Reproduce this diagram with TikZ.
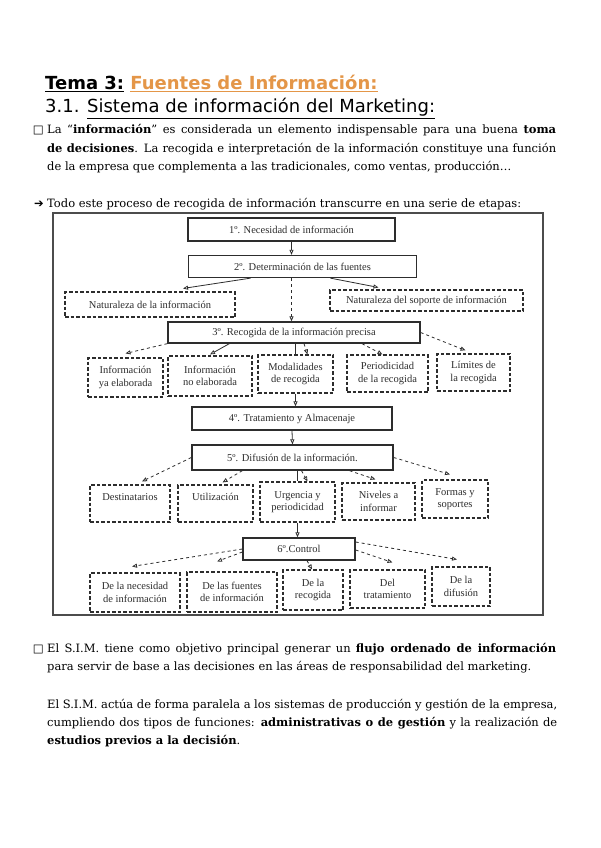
\documentclass[tikz,border=0pt]{standalone}
\usepackage{fontspec}
\setmainfont{DejaVu Serif}
\newfontfamily\titulofont{DejaVu Sans}
\newfontfamily\simbolofont{DejaVu Sans}
\newfontfamily\escaneofont{Liberation Serif}
\usetikzlibrary{arrows.meta}
\definecolor{naranjatema}{RGB}{228,150,72}
\definecolor{tinta}{RGB}{45,45,45}
\tikzset{
  linea/.style={anchor=base west, inner sep=0pt, font=\fontsize{11.5}{14}\selectfont},
  titulo/.style={anchor=base west, inner sep=0pt, font=\titulofont\fontsize{18}{21}\selectfont},
  etapa/.style={draw=tinta, line width=1.3pt, inner sep=1pt, text=tinta,
    font=\escaneofont\fontsize{10.5}{12}\selectfont},
  aspecto/.style={draw=tinta, dash pattern=on 3.5pt off 2pt, line width=1.1pt, inner sep=1pt, align=center, text=tinta,
    font=\escaneofont\fontsize{10.5}{12.5}\selectfont},
  flecha/.style={-{Triangle[open,length=5pt,width=4pt]}, tinta, line width=0.8pt},
}

\begin{document}
\begin{tikzpicture}[x=1pt, y=-1pt]
  \useasboundingbox[fill=white] (0,0) rectangle (600,848);

  % Encabezado
  \node[titulo] (tema) at (45,90) {\bfseries\underline{Tema 3:} \textcolor{naranjatema}{\underline{Fuentes de Información:}}};
  \node[titulo] (apartado) at (45,113) {3.1. \underline{Sistema de información del Marketing:}};

  % Primer párrafo
  \node[linea, anchor=base east] (caja1) at (44,134) {\simbolofont □};
  \node[linea] (p1a) at (47,134) {\makebox[509pt][s]{La “\textbf{información}” es considerada un elemento indispensable para una buena \textbf{toma}}};
  \node[linea] (p1b) at (47,152) {\makebox[509pt][s]{\textbf{de decisiones}. La recogida e interpretación de la información constituye una función}};
  \node[linea] (p1c) at (47,170) {de la empresa que complementa a las tradicionales, como ventas, producción…};

  \node[linea, anchor=base east] (flechita) at (44,207) {\simbolofont ➔};
  \node[linea] (p2) at (47,207) {Todo este proceso de recogida de información transcurre en una serie de etapas:};

  % Marco del esquema
  \draw[gray!60!black, line width=1.4pt] (53,213) rectangle (543,615);

  % Etapas
  \node[etapa, minimum width=207pt, minimum height=23pt] (nec) at (291.5,229.5) {1º. Necesidad de información};
  \node[etapa, minimum width=228pt, minimum height=22pt] (det) at (302.5,266.5) {2º. Determinación de las fuentes};
  \node[aspecto, minimum width=170pt, minimum height=25pt] (natinf) at (150,304.5) {Naturaleza de la información};
  \node[aspecto, minimum width=193pt, minimum height=21pt] (natsop) at (426.5,300.5) {Naturaleza del soporte de información};
  \node[etapa, minimum width=252pt, minimum height=21pt] (rec) at (294,332.5) {3º. Recogida de la información precisa};

  \node[aspecto, minimum width=75pt, minimum height=39pt] (yaelab) at (125.5,377.5) {Información\\ya elaborada};
  \node[aspecto, minimum width=84pt, minimum height=40pt] (noelab) at (210,376) {Información\\no elaborada};
  \node[aspecto, minimum width=75pt, minimum height=38pt] (modal) at (295.5,374) {Modalidades\\de recogida};
  \node[aspecto, minimum width=81pt, minimum height=37pt] (period) at (387.5,373.5) {Periodicidad\\de la recogida};
  \node[aspecto, minimum width=73pt, minimum height=37pt] (limites) at (473.5,372.5) {Límites de\\la recogida};

  \node[etapa, minimum width=200pt, minimum height=23pt] (trat) at (292,418.5) {4º. Tratamiento y Almacenaje};
  \node[etapa, minimum width=201pt, minimum height=25pt] (dif) at (292.5,457.5) {5º. Difusión de la información.};

  \node[aspecto, minimum width=80pt, minimum height=37pt] (dest) at (130,503.5) {Destinatarios\\\mbox{}};
  \node[aspecto, minimum width=75pt, minimum height=37pt] (util) at (215.5,503.5) {Utilización\\\mbox{}};
  \node[aspecto, minimum width=75pt, minimum height=40pt] (urg) at (297.5,502) {Urgencia y\\periodicidad};
  \node[aspecto, minimum width=73pt, minimum height=37pt] (niv) at (378.5,501.5) {Niveles a\\informar};
  \node[aspecto, minimum width=66pt, minimum height=38pt] (formas) at (455,499) {Formas y\\soportes};

  \node[etapa, minimum width=112pt, minimum height=22pt] (ctrl) at (299,549) {6º.Control};

  \node[aspecto, minimum width=90pt, minimum height=39pt] (cnec) at (135,592.5) {De la necesidad\\de información};
  \node[aspecto, minimum width=90pt, minimum height=40pt] (cfue) at (232,592) {De las fuentes\\de información};
  \node[aspecto, minimum width=60pt, minimum height=40pt] (crec) at (313,590) {De la\\recogida};
  \node[aspecto, minimum width=75pt, minimum height=38pt] (ctra) at (387.5,589) {Del\\tratamiento};
  \node[aspecto, minimum width=58pt, minimum height=39pt] (cdif) at (461,586.5) {De la\\difusión};

  % Flechas
  \draw[flecha] (nec.south) -- (nec.south |- det.north);
  \draw[flecha] ([xshift=-52pt]det.south) -- ([xshift=33pt,yshift=3pt]natinf.north);
  \draw[flecha] ([xshift=28pt]det.south) -- ([xshift=-48pt,yshift=2pt]natsop.north);
  \draw[flecha, dashed] (nec.south |- det.south) -- (nec.south |- rec.north);

  \draw[flecha, dashed] (rec.south west) -- ([yshift=4pt]yaelab.north);
  \draw[flecha] ([xshift=62pt]rec.south west) -- ([yshift=1pt]noelab.north);
  \draw[tinta, line width=0.9pt] (rec.south -| modal.north) -- (modal.north);
  \draw[flecha, dashed] ([xshift=10pt]rec.south) -- ([xshift=12pt]modal.north);
  \draw[flecha, dashed] ([xshift=68pt]rec.south) -- ([xshift=-5pt]period.north);
  \draw[flecha, dashed] (rec.east) -- ([xshift=-8pt,yshift=3pt]limites.north);

  \draw[flecha] (modal.south) -- (modal.south |- trat.north);
  \draw[flecha] (trat.south) -- (dif.north);

  \draw[flecha, dashed] (dif.west) -- ([xshift=12pt,yshift=3pt]dest.north);
  \draw[flecha, dashed] ([xshift=51pt]dif.south west) -- ([xshift=7pt,yshift=2pt]util.north);
  \draw[tinta, line width=0.9pt] (dif.south -| urg.north) -- (urg.north);
  \draw[flecha, dashed] ([xshift=9pt]dif.south) -- ([xshift=10pt]urg.north);
  \draw[flecha, dashed] ([xshift=57pt]dif.south) -- ([xshift=-3pt,yshift=3pt]niv.north);
  \draw[flecha, dashed] (dif.east) -- ([xshift=-5pt,yshift=5pt]formas.north);

  \draw[flecha] (urg.south) -- (urg.south |- ctrl.north);

  \draw[flecha, dashed] (ctrl.west) -- ([xshift=-3pt,yshift=6pt]cnec.north);
  \draw[flecha, dashed] ([yshift=-3pt]ctrl.west) -- ([xshift=-15pt,yshift=10pt]cfue.north);
  \draw[flecha, dashed] ([xshift=8pt]ctrl.south) -- ([xshift=-1pt]crec.north);
  \draw[flecha, dashed] ([yshift=-1pt]ctrl.east) -- ([xshift=5pt,yshift=7pt]ctra.north);
  \draw[flecha, dashed] ([yshift=7pt]ctrl.east) -- ([xshift=-4pt,yshift=7pt]cdif.north);

  % Segundo bloque de texto
  \node[linea, anchor=base east] (caja2) at (44,652) {\simbolofont □};
  \node[linea] (p3a) at (47,652) {\makebox[509pt][s]{El S.I.M. tiene como objetivo principal generar un \textbf{flujo ordenado de información}}};
  \node[linea] (p3b) at (47,670) {para servir de base a las decisiones en las áreas de responsabilidad del marketing.};
  \node[linea] (p4a) at (47,708) {\makebox[510pt][s]{El S.I.M. actúa de forma paralela a los sistemas de producción y gestión de la empresa,}};
  \node[linea] (p4b) at (47,726) {\makebox[510pt][s]{cumpliendo dos tipos de funciones: \textbf{administrativas o de gestión} y la realización de}};
  \node[linea] (p4c) at (47,744) {\textbf{estudios previos a la decisión}.};
\end{tikzpicture}
\end{document}
